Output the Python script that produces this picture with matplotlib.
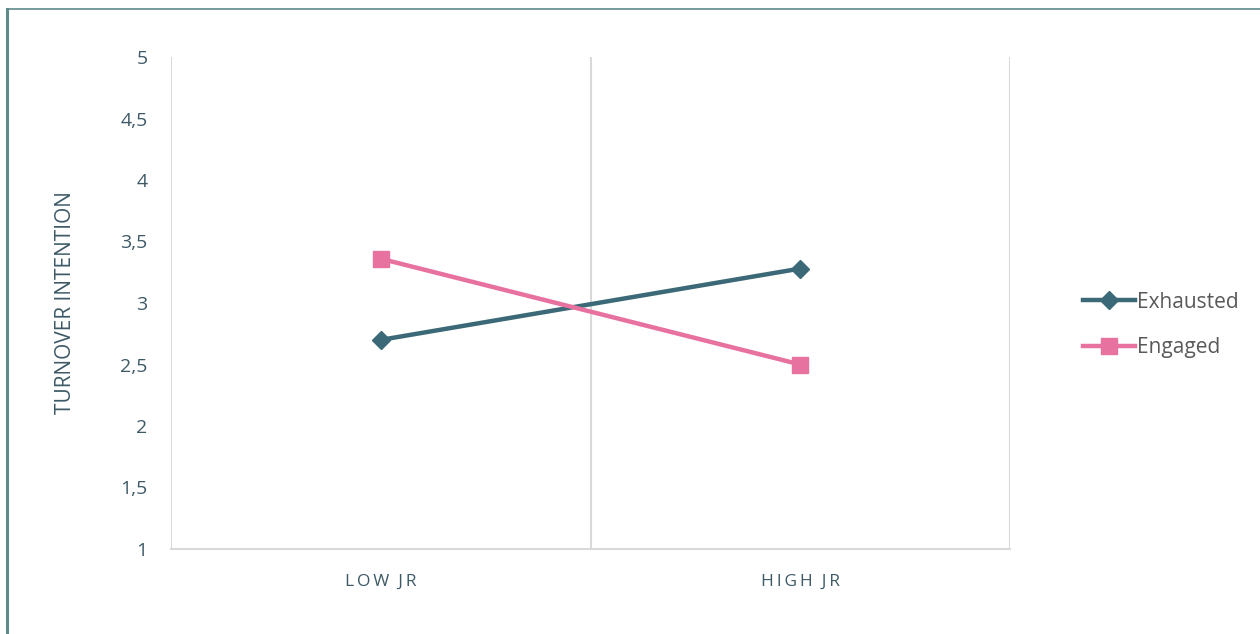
import matplotlib.pyplot as plt
from matplotlib.lines import Line2D

categories = ["LOW JR", "HIGH JR"]
exhausted = [2.70, 3.28]
engaged = [3.36, 2.50]
y_ticks = [1, 1.5, 2, 2.5, 3, 3.5, 4, 4.5, 5]
y_tick_labels = ["1", "1,5", "2", "2,5", "3", "3,5", "4", "4,5", "5"]

TEAL = "#3b6977"
PINK = "#e8729f"
TEXT = "#3d5a66"
GRID = "#d9d9d9"

plt.rcParams["font.family"] = ["Open Sans", "DejaVu Sans"]

fig = plt.figure(figsize=(12.6, 6.34), dpi=100)
ax = fig.add_axes([171 / 1260, 1 - 549 / 634, (1010 - 171) / 1260, (549 - 57) / 634])

x = list(range(len(categories)))
ax.plot(x, exhausted, color=TEAL, lw=3.2, marker="D", ms=9, zorder=3)
ax.plot(x, engaged, color=PINK, lw=3.2, marker="s", ms=12, zorder=3)

ax.set_xlim(-0.5, len(categories) - 0.5)
ax.set_ylim(1, 5)

# vertical category separators
for xv in [-0.5, 0.5, 1.5]:
    ax.axvline(xv, color=GRID, lw=1.5, zorder=1)

for side in ["top", "right", "left"]:
    ax.spines[side].set_visible(False)
ax.spines["bottom"].set_color(GRID)
ax.spines["bottom"].set_linewidth(1.5)

# letter-spaced category labels
ax.set_xticks(x)
ax.set_xticklabels(["\u2009".join(c).replace("\u2009 \u2009", "  ") for c in categories])
ax.set_yticks(y_ticks)
ax.set_yticklabels(y_tick_labels)
ax.tick_params(axis="both", length=0, colors=TEXT)
ax.tick_params(axis="y", labelsize=14, pad=17)
ax.tick_params(axis="x", labelsize=12.5, pad=18)

ax.set_ylabel("TURNOVER INTENTION", fontsize=15, color=TEXT, labelpad=32)

handles = [
    Line2D([], [], color=TEAL, lw=3.2, marker="D", ms=9),
    Line2D([], [], color=PINK, lw=3.2, marker="s", ms=12),
]
fig.legend(handles, ["Exhausted", "Engaged"], loc="center left",
           bbox_to_anchor=(1064 / 1260, 1 - 325 / 634), frameon=False,
           fontsize=15, labelcolor="#595959", handlelength=2.5,
           handletextpad=0.1, labelspacing=1.2)

# outer frame on the left and top edges
fig.add_artist(Line2D([7 / 1260, 7 / 1260], [0, 1 - 9 / 634],
                      transform=fig.transFigure, color="#5f8a8a", lw=2.2))
fig.add_artist(Line2D([7 / 1260, 1], [1 - 9 / 634, 1 - 9 / 634],
                      transform=fig.transFigure, color="#5f8a8a", lw=1.2))

fig.savefig("out.png", dpi=100)
